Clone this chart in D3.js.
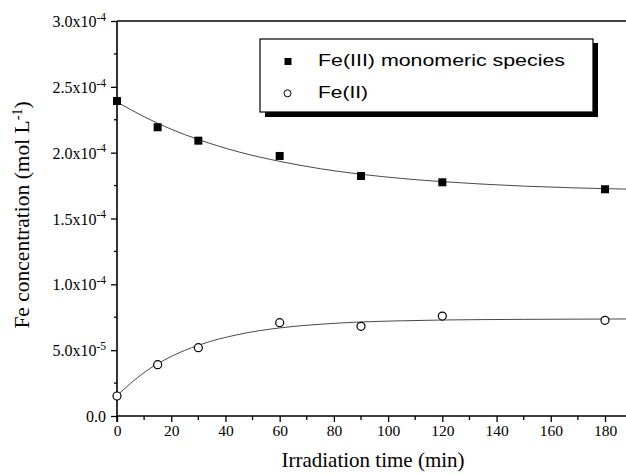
<!DOCTYPE html>
<html>
<head>
<meta charset="utf-8">
<script src="https://cdn.jsdelivr.net/npm/d3@7"></script>
<style>
  html, body { margin: 0; padding: 0; background: #fff; }
  svg { display: block; }
  .tick text { font-family: "Liberation Serif", "Times New Roman", serif; }
</style>
</head>
<body>
<div id="chart"></div>
<script>
// Data
const times = [0, 15, 30, 60, 90, 120, 180];
const fe3Values = [2.392e-4, 2.193e-4, 2.091e-4, 1.975e-4, 1.823e-4, 1.775e-4, 1.722e-4];
const fe2Values = [1.52e-5, 3.90e-5, 5.19e-5, 7.09e-5, 6.81e-5, 7.59e-5, 7.27e-5];

// Fitted curves
const fitTimes = [0, 10, 20, 30, 45, 60, 75, 90, 105, 120, 150, 188];
const fe3Fit = [2.385e-4, 2.273e-4, 2.178e-4, 2.100e-4, 2.005e-4, 1.934e-4, 1.878e-4, 1.836e-4, 1.804e-4, 1.780e-4, 1.746e-4, 1.723e-4];
const fe2Fit = [1.55e-5, 3.30e-5, 4.52e-5, 5.37e-5, 6.20e-5, 6.69e-5, 6.97e-5, 7.14e-5, 7.23e-5, 7.29e-5, 7.34e-5, 7.37e-5];

const xTicks = [0, 20, 40, 60, 80, 100, 120, 140, 160, 180];
const xMinorTicks = [10, 30, 50, 70, 90, 110, 130, 150, 170, 190];
const yTicks = [0, 5e-5, 1e-4, 1.5e-4, 2e-4, 2.5e-4, 3e-4];
const yTickBase = ['0.0', '5.0x10', '1.0x10', '1.5x10', '2.0x10', '2.5x10', '3.0x10'];
const yTickExp = ['', '-5', '-4', '-4', '-4', '-4', '-4'];
const yMinorTicks = [2.5e-5, 7.5e-5, 1.25e-4, 1.75e-4, 2.25e-4, 2.75e-4];

const legendLabels = ['Fe(III) monomeric species', 'Fe(II)'];

const width = 626, height = 474;
const plotLeft = 117, plotTop = 21, plotBottom = 416, xEnd = 626;

const svg = d3.select('#chart').append('svg')
    .attr('width', width)
    .attr('height', height);

const x = d3.scaleLinear().domain([0, 180]).range([plotLeft, 605]);
const y = d3.scaleLinear().domain([0, 3e-4]).range([plotBottom, plotTop]);

// X axis
const xAxis = svg.append('g')
    .attr('transform', `translate(0,${plotBottom})`)
    .call(d3.axisBottom(x).tickValues(xTicks).tickSize(6).tickPadding(3).tickFormat(d3.format('d')));
xAxis.select('.domain').remove();
xAxis.selectAll('.tick line').attr('stroke-width', 1.3);
xAxis.selectAll('.tick text').attr('font-size', 15.5).attr('fill', '#000');

svg.append('g').selectAll('line')
    .data(xMinorTicks.filter(d => x(d) < xEnd))
    .enter().append('line')
    .attr('x1', d => x(d)).attr('x2', d => x(d))
    .attr('y1', plotBottom).attr('y2', plotBottom + 4)
    .attr('stroke', '#000').attr('stroke-width', 1.3);

// Y axis
const yAxis = svg.append('g')
    .attr('transform', `translate(${plotLeft},0)`)
    .call(d3.axisLeft(y).tickValues(yTicks).tickSize(6).tickPadding(4).tickFormat(''));
yAxis.select('.domain').remove();
yAxis.selectAll('.tick line').attr('stroke-width', 1.3);

yAxis.selectAll('.tick').each(function(d, i) {
    const t = d3.select(this).append('text')
        .attr('x', -11)
        .attr('dy', '0.35em')
        .attr('text-anchor', 'end')
        .attr('font-size', 16)
        .attr('fill', '#000')
        .text(yTickBase[i]);
    if (yTickExp[i]) {
        t.append('tspan')
            .attr('font-size', 11.5)
            .attr('dy', '-0.55em')
            .text(yTickExp[i]);
    }
});

svg.append('g').selectAll('line')
    .data(yMinorTicks)
    .enter().append('line')
    .attr('x1', plotLeft - 3).attr('x2', plotLeft)
    .attr('y1', d => y(d)).attr('y2', d => y(d))
    .attr('stroke', '#000').attr('stroke-width', 1.3);

// frame lines
svg.append('line')
    .attr('x1', plotLeft).attr('x2', xEnd).attr('y1', plotBottom).attr('y2', plotBottom)
    .attr('stroke', '#000').attr('stroke-width', 1.6);
svg.append('line')
    .attr('x1', plotLeft).attr('x2', plotLeft).attr('y1', plotTop).attr('y2', plotBottom + 6)
    .attr('stroke', '#000').attr('stroke-width', 1.6);
svg.append('line')
    .attr('x1', plotLeft).attr('x2', xEnd).attr('y1', plotTop).attr('y2', plotTop)
    .attr('stroke', '#000').attr('stroke-width', 1.4);

// Fit lines
const line = d3.line()
    .x(d => x(d[0]))
    .y(d => y(d[1]))
    .curve(d3.curveMonotoneX);

[fe3Fit, fe2Fit].forEach(vals => {
    svg.append('path')
        .datum(fitTimes.map((t, i) => [t, vals[i]]))
        .attr('d', line)
        .attr('fill', 'none')
        .attr('stroke', '#333')
        .attr('stroke-width', 0.9);
});

// Markers
svg.append('g').selectAll('rect')
    .data(times.map((t, i) => [t, fe3Values[i]]))
    .enter().append('rect')
    .attr('x', d => x(d[0]) - 4)
    .attr('y', d => y(d[1]) - 4)
    .attr('width', 8).attr('height', 8)
    .attr('fill', '#000');

svg.append('g').selectAll('circle')
    .data(times.map((t, i) => [t, fe2Values[i]]))
    .enter().append('circle')
    .attr('cx', d => x(d[0]))
    .attr('cy', d => y(d[1]))
    .attr('r', 4)
    .attr('fill', '#fff')
    .attr('stroke', '#000')
    .attr('stroke-width', 1.2);

// Legend
const lg = svg.append('g');
lg.append('rect').attr('x', 265).attr('y', 43).attr('width', 333).attr('height', 74).attr('fill', '#000');
lg.append('rect').attr('x', 260).attr('y', 39).attr('width', 333).attr('height', 73)
    .attr('fill', '#fff').attr('stroke', '#000').attr('stroke-width', 1.2);
lg.append('rect').attr('x', 284.5).attr('y', 58).attr('width', 7).attr('height', 7).attr('fill', '#000');
lg.append('circle').attr('cx', 287.5).attr('cy', 93.3).attr('r', 3.5)
    .attr('fill', '#fff').attr('stroke', '#000').attr('stroke-width', 1);
lg.selectAll('text')
    .data(legendLabels)
    .enter().append('text')
    .attr('x', 318)
    .attr('y', (d, i) => 66 + i * 32)
    .attr('font-family', '"Liberation Sans", Arial, sans-serif')
    .attr('font-size', 17)
    .attr('textLength', (d, i) => i === 0 ? 247 : 50)
    .attr('lengthAdjust', 'spacingAndGlyphs')
    .text(d => d);

// Axis titles
svg.append('text')
    .attr('x', 373).attr('y', 467)
    .attr('text-anchor', 'middle')
    .attr('font-family', '"Liberation Serif", "Times New Roman", serif')
    .attr('font-size', 21)
    .text('Irradiation time (min)');

const yt = svg.append('text')
    .attr('transform', 'translate(29,215) rotate(-90)')
    .attr('text-anchor', 'middle')
    .attr('font-family', '"Liberation Serif", "Times New Roman", serif')
    .attr('font-size', 21.5)
    .text('Fe concentration (mol L');
yt.append('tspan').attr('font-size', 14).attr('dy', '-0.5em').text('-1');
yt.append('tspan').attr('dy', '0.33em').text(')');
</script>
</body>
</html>
